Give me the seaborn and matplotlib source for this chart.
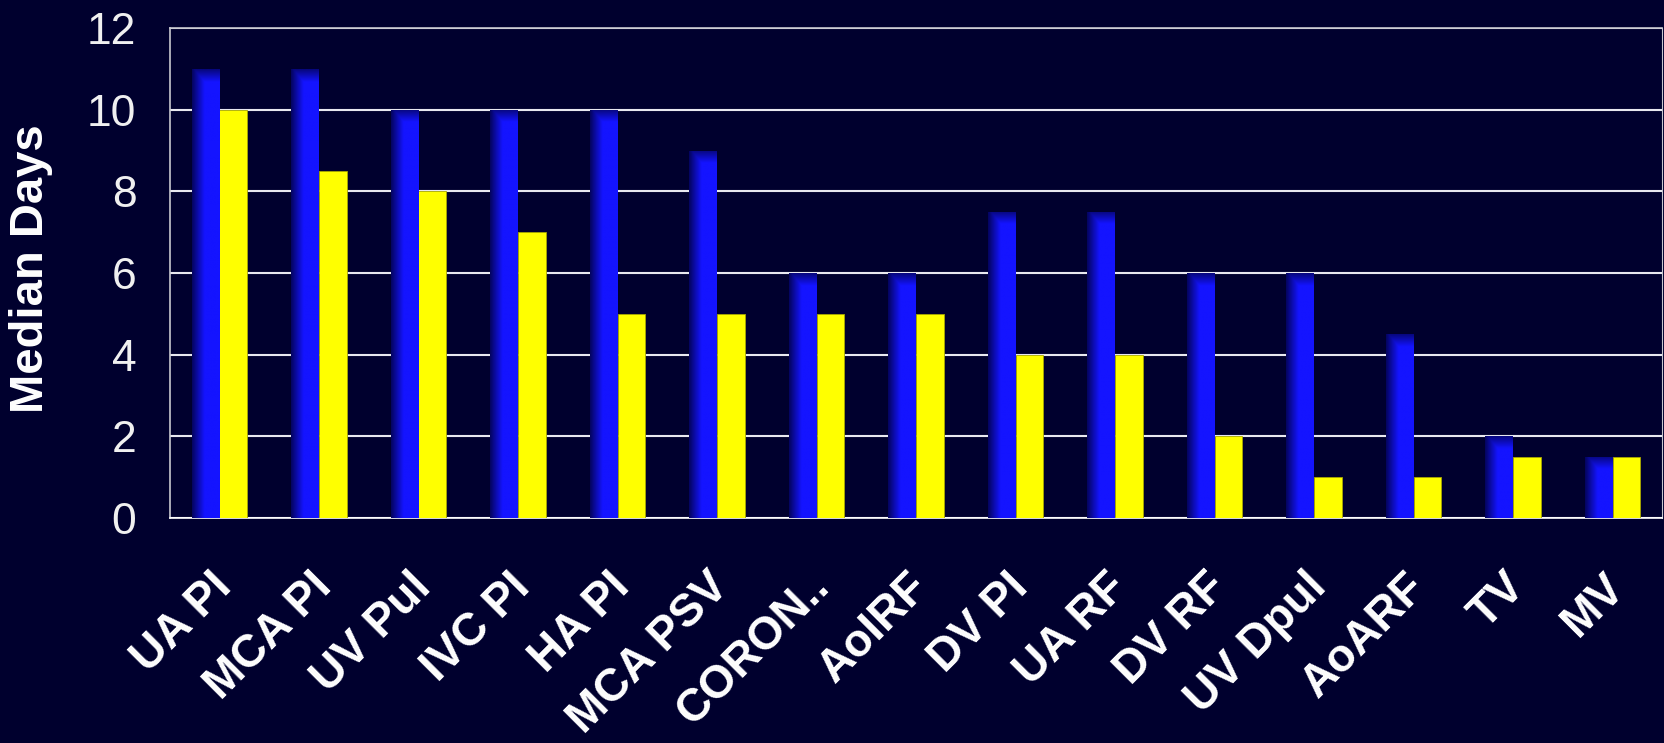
import numpy as np
import pandas as pd
import seaborn as sns
import matplotlib.pyplot as plt
import matplotlib.transforms as mtransforms

categories = ['UA PI', 'MCA PI', 'UV Pul', 'IVC PI', 'HA PI', 'MCA PSV', 'CORON..',
              'AoIRF', 'DV PI', 'UA RF', 'DV RF', 'UV Dpul', 'AoARF', 'TV', 'MV']
blue_vals = [11, 11, 10, 10, 10, 9, 6, 6, 7.5, 7.5, 6, 6, 4.5, 2, 1.5]
yellow_vals = [10, 8.5, 8, 7, 5, 5, 5, 5, 4, 4, 2, 1, 1, 1.5, 1.5]
series = ['Group A', 'Group B']
yticks = [0, 2, 4, 6, 8, 10, 12]

bg = '#00002e'
df = pd.DataFrame({
    'cat': categories * 2,
    'days': blue_vals + yellow_vals,
    'grp': [series[0]] * len(categories) + [series[1]] * len(categories),
})

sns.set_style('white')
plt.rcParams['font.family'] = ['Liberation Sans', 'DejaVu Sans']

fig = plt.figure(figsize=(16.64, 7.43), dpi=100, facecolor=bg)
ax = fig.add_axes([0.102, 0.303, 0.897, 0.659], facecolor=bg)

sns.barplot(data=df, x='cat', y='days', hue='grp', order=categories, hue_order=series,
            palette=['#1414ff', '#ffff00'], width=0.56, gap=0, legend=False,
            saturation=1, ax=ax, zorder=3)

# gradient shading on the blue bars (dark left edge, faded top)
nb = len(categories)
base = np.array([0x14, 0x14, 0xff]) / 255
dark = np.array([0x00, 0x00, 0x38]) / 255
for p in ax.patches[:nb]:
    p.set_edgecolor('none')
    x0, y0 = p.get_x(), p.get_y()
    w, h = p.get_width(), p.get_height()
    ny, nx = 400, 60
    xs = np.linspace(0, 1, nx)
    hfac = np.clip(0.2 + 0.8 * xs / 0.45, 0, 1)
    dist_top = np.linspace(0, h, ny)
    vfac = np.clip(0.35 + 0.65 * dist_top / 0.3, 0, 1)
    fac = np.minimum(vfac[:, None], hfac[None, :])
    img = dark[None, None, :] + (base - dark)[None, None, :] * fac[:, :, None]
    im = ax.imshow(img, extent=[x0, x0 + w, y0, y0 + h], aspect='auto', origin='upper',
                   zorder=3.5, interpolation='bilinear')
    im.set_clip_path(p)
for p in ax.patches[nb:]:
    p.set_edgecolor('#a8a800')
    p.set_linewidth(0.6)

ax.set_xlim(-0.5, nb - 0.5)
ax.set_ylim(0, 12)
ax.set_yticks(yticks)
ax.yaxis.grid(True, color='#e8e8f0', linewidth=1.5, zorder=0)
ax.set_axisbelow(True)
for s in ax.spines.values():
    s.set_color('#c8c8d0')
    s.set_linewidth(1.2)
ax.spines['right'].set_linewidth(0.8)
ax.spines['bottom'].set_color('#ffffff')

ax.tick_params(axis='both', length=0)
ax.tick_params(axis='y', labelsize=32, labelcolor='#f0f0f0', pad=24)
ax.set_xlabel('')
ax.set_ylabel('Median Days', fontsize=34, fontweight='bold', color='white')
ax.yaxis.set_label_coords(-0.078, 0.51)
ax.set_xticks(range(nb))
ax.set_xticklabels(categories, rotation=45, ha='right', va='top', rotation_mode='anchor',
                   fontsize=33, fontweight='bold', color='white')
off = mtransforms.ScaledTranslation(-0.1, -0.42, fig.dpi_scale_trans)
for lab in ax.get_xticklabels():
    lab.set_transform(lab.get_transform() + off)

fig.savefig('out.png', dpi=100, facecolor=bg)
